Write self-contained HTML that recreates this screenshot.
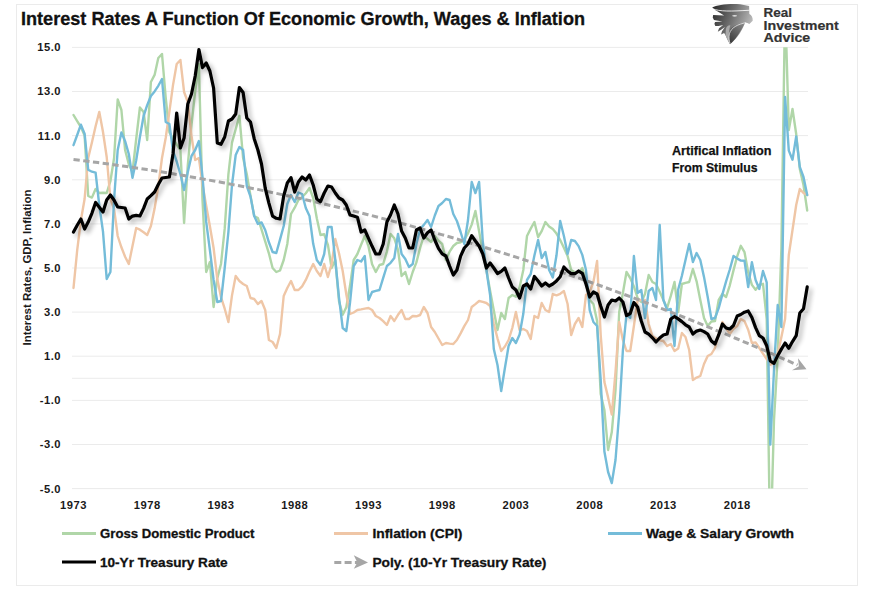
<!DOCTYPE html>
<html><head><meta charset="utf-8"><style>
html,body{margin:0;padding:0;background:#fff;}
body{width:870px;height:594px;overflow:hidden;position:relative;font-family:"Liberation Sans",sans-serif;}
svg{position:absolute;left:0;top:0;}
</style></head><body>
<svg width="870" height="594" viewBox="0 0 870 594">
<defs>
<filter id="sh" filterUnits="userSpaceOnUse" x="50" y="20" width="800" height="480">
<feGaussianBlur in="SourceAlpha" stdDeviation="2.6"/>
<feOffset dx="2.5" dy="2.5" result="b"/>
<feComponentTransfer><feFuncA type="linear" slope="0.32"/></feComponentTransfer>
<feMerge><feMergeNode/><feMergeNode in="SourceGraphic"/></feMerge>
</filter>
<clipPath id="pc"><rect x="60" y="47.3" width="760" height="441.3"/></clipPath>
<linearGradient id="eg" gradientUnits="userSpaceOnUse" x1="75" y1="80" x2="555" y2="260">
<stop offset="0" stop-color="#2a2a2a"/><stop offset="0.5" stop-color="#6e6e6e"/><stop offset="1" stop-color="#bdbdbd"/>
</linearGradient>
<linearGradient id="eg2" gradientUnits="userSpaceOnUse" x1="280" y1="500" x2="460" y2="280">
<stop offset="0" stop-color="#3a3a3a"/><stop offset="1" stop-color="#8a8a8a"/>
</linearGradient>
</defs>
<rect x="16.5" y="4.5" width="841" height="581" fill="#fff" stroke="#ebebeb" stroke-width="1"/>
<g stroke="#ebebeb" stroke-width="1"><line x1="72" x2="808" y1="47.4" y2="47.4"/><line x1="72" x2="808" y1="91.5" y2="91.5"/><line x1="72" x2="808" y1="135.6" y2="135.6"/><line x1="72" x2="808" y1="179.8" y2="179.8"/><line x1="72" x2="808" y1="223.9" y2="223.9"/><line x1="72" x2="808" y1="268.0" y2="268.0"/><line x1="72" x2="808" y1="312.1" y2="312.1"/><line x1="72" x2="808" y1="356.2" y2="356.2"/><line x1="72" x2="808" y1="400.4" y2="400.4"/><line x1="72" x2="808" y1="444.5" y2="444.5"/><line x1="72" x2="808" y1="488.6" y2="488.6"/><line x1="72" x2="808" y1="378.3" y2="378.3"/></g>
<g font-family="Liberation Sans" font-weight="bold" font-size="11.2" fill="#1a1a1a" text-anchor="end"><text x="61" y="51.3" letter-spacing="0.5">15.0</text><text x="61" y="95.4" letter-spacing="0.5">13.0</text><text x="61" y="139.5" letter-spacing="0.5">11.0</text><text x="61" y="183.7" letter-spacing="0.5">9.0</text><text x="61" y="227.8" letter-spacing="0.5">7.0</text><text x="61" y="271.9" letter-spacing="0.5">5.0</text><text x="61" y="316.0" letter-spacing="0.5">3.0</text><text x="61" y="360.1" letter-spacing="0.5">1.0</text><text x="61" y="404.3" letter-spacing="0.5">-1.0</text><text x="61" y="448.4" letter-spacing="0.5">-3.0</text><text x="61" y="492.5" letter-spacing="0.5">-5.0</text></g>
<g font-family="Liberation Sans" font-weight="bold" font-size="11.2" fill="#1a1a1a" text-anchor="middle"><text x="73.5" y="509" letter-spacing="0.5">1973</text><text x="147.2" y="509" letter-spacing="0.5">1978</text><text x="221.0" y="509" letter-spacing="0.5">1983</text><text x="294.7" y="509" letter-spacing="0.5">1988</text><text x="368.5" y="509" letter-spacing="0.5">1993</text><text x="442.2" y="509" letter-spacing="0.5">1998</text><text x="515.9" y="509" letter-spacing="0.5">2003</text><text x="589.7" y="509" letter-spacing="0.5">2008</text><text x="663.4" y="509" letter-spacing="0.5">2013</text><text x="737.2" y="509" letter-spacing="0.5">2018</text></g>
<text transform="translate(30.8,345.5) rotate(-90)" font-family="Liberation Sans" font-weight="bold" font-size="11" fill="#1a1a1a" textLength="156" lengthAdjust="spacingAndGlyphs">Interest Rates, GDP, Inflation</text>
<text x="21" y="25.3" font-family="Liberation Sans" font-weight="bold" font-size="17.5" fill="#111" stroke="#111" stroke-width="0.3" textLength="564" lengthAdjust="spacingAndGlyphs">Interest Rates A Function Of Economic Growth, Wages &amp; Inflation</text>
<g clip-path="url(#pc)" fill="none" stroke-linejoin="round" stroke-linecap="round">
<path d="M73.5,115.0 L77.2,121.1 L80.9,127.0 L84.6,135.5 L88.2,196.0 L91.9,197.6 L95.6,189.0 L99.3,193.0 L103.0,192.8 L106.7,193.0 L110.4,181.2 L114.1,158.0 L117.7,99.5 L121.4,110.0 L125.1,150.0 L128.8,164.2 L132.5,172.0 L136.2,139.0 L139.9,107.5 L143.6,112.0 L147.2,140.0 L150.9,82.0 L154.6,74.9 L158.3,58.0 L162.0,54.0 L165.7,97.5 L169.4,132.3 L173.0,138.4 L176.7,144.6 L180.4,150.0 L184.1,223.0 L187.8,165.0 L191.5,125.0 L195.2,91.0 L198.9,64.0 L202.5,200.0 L206.2,272.0 L209.9,262.0 L213.6,307.0 L217.3,278.2 L221.0,264.0 L224.7,228.7 L228.4,174.3 L232.0,142.6 L235.7,129.2 L239.4,115.8 L243.1,158.0 L246.8,174.2 L250.5,195.6 L254.2,216.0 L257.9,218.0 L261.5,229.4 L265.2,241.3 L268.9,253.3 L272.6,268.0 L276.3,272.0 L280.0,270.5 L283.7,260.0 L287.3,244.0 L291.0,214.0 L294.7,207.7 L298.4,200.0 L302.1,197.3 L305.8,193.2 L309.5,188.0 L313.2,198.0 L316.8,218.3 L320.5,235.0 L324.2,234.3 L327.9,244.8 L331.6,268.0 L335.3,260.0 L339.0,301.1 L342.7,314.7 L346.3,307.3 L350.0,285.8 L353.7,260.0 L357.4,254.0 L361.1,244.7 L364.8,236.0 L368.5,246.4 L372.1,264.3 L375.8,272.0 L379.5,265.0 L383.2,264.0 L386.9,251.6 L390.6,234.0 L394.3,238.3 L398.0,249.8 L401.6,276.0 L405.3,272.0 L409.0,284.0 L412.7,272.0 L416.4,262.4 L420.1,248.0 L423.8,236.0 L427.5,238.9 L431.1,242.0 L434.8,236.0 L438.5,240.7 L442.2,244.0 L445.9,260.0 L449.6,251.7 L453.3,246.0 L456.9,243.0 L460.6,242.3 L464.3,239.7 L468.0,233.4 L471.7,224.6 L475.4,211.0 L479.1,231.3 L482.8,251.6 L486.4,270.0 L490.1,290.8 L493.8,310.5 L497.5,330.0 L501.2,313.0 L504.9,319.0 L508.6,298.0 L512.3,295.0 L515.9,296.8 L519.6,287.2 L523.3,270.0 L527.0,236.0 L530.7,228.6 L534.4,222.0 L538.1,237.0 L541.7,231.1 L545.4,222.0 L549.1,226.4 L552.8,229.0 L556.5,233.6 L560.2,240.0 L563.9,247.7 L567.6,256.0 L571.2,270.0 L574.9,272.5 L578.6,272.4 L582.3,268.0 L586.0,282.0 L589.7,300.0 L593.4,304.0 L597.1,321.0 L600.7,394.0 L604.4,410.0 L608.1,450.0 L611.8,432.0 L615.5,390.1 L619.2,312.0 L622.9,293.0 L626.5,272.0 L630.2,278.0 L633.9,286.4 L637.6,298.0 L641.3,302.0 L645.0,294.0 L648.7,275.0 L652.4,282.0 L656.0,284.0 L659.7,291.7 L663.4,300.0 L667.1,308.0 L670.8,295.9 L674.5,282.0 L678.2,312.0 L681.9,284.0 L685.5,282.8 L689.2,282.0 L692.9,269.0 L696.6,281.3 L700.3,300.0 L704.0,318.0 L707.7,326.0 L711.4,321.5 L715.0,321.0 L718.7,300.0 L722.4,294.0 L726.1,297.0 L729.8,285.3 L733.5,270.4 L737.2,256.3 L740.8,245.8 L744.5,252.2 L748.2,272.4 L751.9,284.9 L755.6,289.8 L759.3,285.0 L763.0,283.8 L766.7,319.0 L770.3,555.0 L774.0,420.0 L777.7,356.0 L781.4,248.0 L785.1,3.0 L788.8,130.0 L792.5,109.0 L796.2,134.0 L799.8,169.0 L803.5,185.0 L807.2,210.5" stroke="#b0d6a8" stroke-width="2.4"/>
<path d="M73.5,288.0 L77.2,250.2 L80.9,220.3 L84.6,199.0 L88.2,158.0 L91.9,142.5 L95.6,126.2 L99.3,111.9 L103.0,132.0 L106.7,157.0 L110.4,199.0 L114.1,208.9 L117.7,236.0 L121.4,247.3 L125.1,256.7 L128.8,264.0 L132.5,246.0 L136.2,228.0 L139.9,229.7 L143.6,232.2 L147.2,235.0 L150.9,226.0 L154.6,208.6 L158.3,186.0 L162.0,158.0 L165.7,138.0 L169.4,111.6 L173.0,85.1 L176.7,64.0 L180.4,60.0 L184.1,92.0 L187.8,102.0 L191.5,136.0 L195.2,160.0 L198.9,158.0 L202.5,184.4 L206.2,205.7 L209.9,226.2 L213.6,248.0 L217.3,279.0 L221.0,297.2 L224.7,308.7 L228.4,322.0 L232.0,295.4 L235.7,276.0 L239.4,281.0 L243.1,284.0 L246.8,286.0 L250.5,298.0 L254.2,299.0 L257.9,304.0 L261.5,301.0 L265.2,310.0 L268.9,340.0 L272.6,342.0 L276.3,348.0 L280.0,334.0 L283.7,296.0 L287.3,288.0 L291.0,281.0 L294.7,290.0 L298.4,290.0 L302.1,286.3 L305.8,279.9 L309.5,271.5 L313.2,264.0 L316.8,271.0 L320.5,276.0 L324.2,264.0 L327.9,277.0 L331.6,264.0 L335.3,239.0 L339.0,253.3 L342.7,271.0 L346.3,294.2 L350.0,314.0 L353.7,312.5 L357.4,310.0 L361.1,309.4 L364.8,308.6 L368.5,308.0 L372.1,310.0 L375.8,316.0 L379.5,318.0 L383.2,321.2 L386.9,325.0 L390.6,316.0 L394.3,321.0 L398.0,314.8 L401.6,310.0 L405.3,319.0 L409.0,319.0 L412.7,316.0 L416.4,316.3 L420.1,315.0 L423.8,307.0 L427.5,313.0 L431.1,327.0 L434.8,332.0 L438.5,338.5 L442.2,345.0 L445.9,343.0 L449.6,343.6 L453.3,344.0 L456.9,340.0 L460.6,333.4 L464.3,326.1 L468.0,320.0 L471.7,307.0 L475.4,304.1 L479.1,301.0 L482.8,301.9 L486.4,303.0 L490.1,306.0 L493.8,323.8 L497.5,338.3 L501.2,351.0 L504.9,346.5 L508.6,340.0 L512.3,328.0 L515.9,312.0 L519.6,330.0 L523.3,329.0 L527.0,331.0 L530.7,339.0 L534.4,316.0 L538.1,318.0 L541.7,303.0 L545.4,310.0 L549.1,312.0 L552.8,294.0 L556.5,295.4 L560.2,293.8 L563.9,291.0 L567.6,304.0 L571.2,335.0 L574.9,324.0 L578.6,318.0 L582.3,327.0 L586.0,295.0 L589.7,292.0 L593.4,282.0 L597.1,261.0 L600.7,335.0 L604.4,382.0 L608.1,397.4 L611.8,414.5 L615.5,372.1 L619.2,322.0 L622.9,340.0 L626.5,351.0 L630.2,351.0 L633.9,326.0 L637.6,300.0 L641.3,300.0 L645.0,300.0 L648.7,324.0 L652.4,336.0 L656.0,338.4 L659.7,340.3 L663.4,341.0 L667.1,346.0 L670.8,344.0 L674.5,351.0 L678.2,348.5 L681.9,333.0 L685.5,337.0 L689.2,350.0 L692.9,380.0 L696.6,377.6 L700.3,376.0 L704.0,364.0 L707.7,356.0 L711.4,354.0 L715.0,348.0 L718.7,334.0 L722.4,322.0 L726.1,328.2 L729.8,334.0 L733.5,328.9 L737.2,326.0 L740.8,319.0 L744.5,321.1 L748.2,329.8 L751.9,343.0 L755.6,342.4 L759.3,348.0 L763.0,353.6 L766.7,359.2 L770.3,364.8 L774.0,362.7 L777.7,354.0 L781.4,337.1 L785.1,319.0 L788.8,255.0 L792.5,230.0 L796.2,205.0 L799.8,189.0 L803.5,193.0 L807.2,195.0" stroke="#efc6a6" stroke-width="2.4"/>
<path d="M73.5,145.2 L77.2,135.0 L80.9,124.7 L84.6,133.7 L88.2,169.8 L91.9,171.7 L95.6,172.7 L99.3,205.5 L103.0,231.6 L106.7,279.0 L110.4,272.0 L114.1,199.0 L117.7,150.0 L121.4,132.5 L125.1,141.1 L128.8,154.0 L132.5,177.7 L136.2,160.2 L139.9,137.0 L143.6,116.0 L147.2,105.2 L150.9,96.0 L154.6,91.4 L158.3,85.8 L162.0,79.0 L165.7,122.0 L169.4,124.0 L173.0,151.0 L176.7,161.5 L180.4,174.2 L184.1,190.0 L187.8,172.1 L191.5,156.0 L195.2,150.0 L198.9,141.0 L202.5,176.9 L206.2,221.9 L209.9,250.0 L213.6,280.0 L217.3,302.0 L221.0,301.0 L224.7,268.0 L228.4,232.0 L232.0,185.0 L235.7,155.0 L239.4,147.0 L243.1,150.0 L246.8,186.0 L250.5,196.6 L254.2,216.0 L257.9,224.0 L261.5,222.4 L265.2,230.0 L268.9,242.3 L272.6,252.0 L276.3,253.0 L280.0,239.6 L283.7,226.0 L287.3,204.0 L291.0,195.0 L294.7,202.0 L298.4,192.5 L302.1,194.0 L305.8,208.0 L309.5,216.0 L313.2,243.8 L316.8,260.0 L320.5,265.0 L324.2,254.0 L327.9,227.0 L331.6,227.0 L335.3,260.0 L339.0,297.6 L342.7,328.0 L346.3,331.0 L350.0,302.9 L353.7,266.0 L357.4,260.0 L361.1,261.5 L364.8,256.0 L368.5,300.0 L372.1,292.0 L375.8,290.9 L379.5,290.0 L383.2,277.8 L386.9,266.0 L390.6,262.8 L394.3,258.0 L398.0,234.0 L401.6,254.0 L405.3,259.0 L409.0,267.0 L412.7,264.0 L416.4,244.0 L420.1,229.0 L423.8,224.9 L427.5,220.0 L431.1,227.0 L434.8,215.5 L438.5,206.0 L442.2,203.0 L445.9,199.0 L449.6,200.0 L453.3,214.0 L456.9,221.0 L460.6,232.0 L464.3,244.0 L468.0,220.0 L471.7,182.0 L475.4,193.0 L479.1,182.0 L482.8,242.0 L486.4,270.0 L490.1,295.0 L493.8,349.0 L497.5,365.0 L501.2,391.0 L504.9,368.0 L508.6,346.0 L512.3,338.0 L515.9,343.0 L519.6,334.5 L523.3,313.8 L527.0,280.0 L530.7,274.0 L534.4,255.5 L538.1,240.0 L541.7,258.0 L545.4,252.0 L549.1,270.0 L552.8,277.5 L556.5,255.3 L560.2,221.0 L563.9,236.0 L567.6,254.0 L571.2,240.0 L574.9,241.0 L578.6,246.1 L582.3,254.9 L586.0,270.0 L589.7,310.1 L593.4,322.0 L597.1,326.0 L600.7,380.0 L604.4,451.5 L608.1,472.0 L611.8,483.0 L615.5,460.0 L619.2,413.0 L622.9,350.0 L626.5,314.5 L630.2,318.0 L633.9,256.0 L637.6,293.0 L641.3,290.0 L645.0,318.0 L648.7,291.0 L652.4,288.0 L656.0,300.0 L659.7,225.0 L663.4,300.0 L667.1,310.0 L670.8,309.0 L674.5,346.0 L678.2,289.5 L681.9,275.7 L685.5,259.9 L689.2,244.0 L692.9,262.0 L696.6,253.0 L700.3,260.0 L704.0,276.9 L707.7,297.0 L711.4,319.0 L715.0,318.0 L718.7,308.2 L722.4,294.4 L726.1,281.3 L729.8,269.5 L733.5,256.0 L737.2,258.5 L740.8,260.6 L744.5,260.8 L748.2,287.0 L751.9,262.3 L755.6,280.0 L759.3,289.0 L763.0,271.0 L766.7,282.4 L770.3,444.6 L774.0,370.0 L777.7,305.0 L781.4,327.0 L785.1,97.0 L788.8,150.6 L792.5,159.7 L796.2,136.5 L799.8,166.8 L803.5,177.0 L807.2,195.0" stroke="#74bcd9" stroke-width="2.4"/>
<path d="M73.5,159.5 L85.8,161.0 L98.0,162.6 L110.3,164.2 L122.6,166.0 L134.9,167.8 L147.1,169.6 L159.4,171.6 L171.7,173.6 L183.9,175.6 L196.2,177.8 L208.5,180.0 L220.8,182.2 L233.0,184.6 L245.3,187.0 L257.6,189.4 L269.8,192.0 L282.1,194.6 L294.4,197.2 L306.7,200.0 L318.9,202.8 L331.2,205.7 L343.5,208.6 L355.7,211.6 L368.0,214.7 L380.3,217.8 L392.6,221.1 L404.8,224.3 L417.1,227.7 L429.4,231.1 L441.6,234.6 L453.9,238.1 L466.2,241.8 L478.4,245.5 L490.7,249.2 L503.0,253.0 L515.3,256.9 L527.5,260.9 L539.8,264.9 L552.1,269.0 L564.3,273.2 L576.6,277.4 L588.9,281.7 L601.2,286.0 L613.4,290.5 L625.7,295.0 L638.0,299.5 L650.2,304.2 L662.5,308.9 L674.8,313.6 L687.1,318.5 L699.3,323.4 L711.6,328.4 L723.9,333.4 L736.1,338.5 L748.4,343.7 L760.7,348.9 L773.0,354.2 L785.2,359.6 L797.5,365.0" stroke="#a6a6a6" stroke-width="3" stroke-dasharray="6.3,3.5" stroke-linecap="butt"/>
<path d="M73.5,232.0 L77.2,225.2 L80.9,219.0 L84.6,229.0 L88.2,222.1 L91.9,213.3 L95.6,202.4 L99.3,207.2 L103.0,212.0 L106.7,200.0 L110.4,195.0 L114.1,200.2 L117.7,207.0 L121.4,207.5 L125.1,208.0 L128.8,219.0 L132.5,216.1 L136.2,215.4 L139.9,216.0 L143.6,208.4 L147.2,199.0 L150.9,195.6 L154.6,192.0 L158.3,184.5 L162.0,178.0 L165.7,177.5 L169.4,177.0 L173.0,154.0 L176.7,113.0 L180.4,148.0 L184.1,138.0 L187.8,104.0 L191.5,94.0 L195.2,76.0 L198.9,49.6 L202.5,67.6 L206.2,63.0 L209.9,71.0 L213.6,88.0 L217.3,143.0 L221.0,144.3 L224.7,137.0 L228.4,121.0 L232.0,119.0 L235.7,114.0 L239.4,87.5 L243.1,92.5 L246.8,118.0 L250.5,122.0 L254.2,138.7 L257.9,150.0 L261.5,164.0 L265.2,188.0 L268.9,203.1 L272.6,216.1 L276.3,218.3 L280.0,219.0 L283.7,196.0 L287.3,183.0 L291.0,177.6 L294.7,192.0 L298.4,182.0 L302.1,177.0 L305.8,180.0 L309.5,175.0 L313.2,185.0 L316.8,199.0 L320.5,201.6 L324.2,193.0 L327.9,186.0 L331.6,187.0 L335.3,193.0 L339.0,198.0 L342.7,200.0 L346.3,205.0 L350.0,215.0 L353.7,216.0 L357.4,217.2 L361.1,232.0 L364.8,230.0 L368.5,238.3 L372.1,246.3 L375.8,254.0 L379.5,254.0 L383.2,244.0 L386.9,222.0 L390.6,214.7 L394.3,205.0 L398.0,214.0 L401.6,231.0 L405.3,238.0 L409.0,248.0 L412.7,248.0 L416.4,230.0 L420.1,228.0 L423.8,238.0 L427.5,232.8 L431.1,230.0 L434.8,240.0 L438.5,248.4 L442.2,253.8 L445.9,256.0 L449.6,266.0 L453.3,275.0 L456.9,270.0 L460.6,256.1 L464.3,248.0 L468.0,244.0 L471.7,235.6 L475.4,241.0 L479.1,246.0 L482.8,254.0 L486.4,268.0 L490.1,263.0 L493.8,268.0 L497.5,273.5 L501.2,271.4 L504.9,268.0 L508.6,278.0 L512.3,287.0 L515.9,290.0 L519.6,298.0 L523.3,286.0 L527.0,284.0 L530.7,289.0 L534.4,276.5 L538.1,281.0 L541.7,286.0 L545.4,283.0 L549.1,286.0 L552.8,284.0 L556.5,280.9 L560.2,276.8 L563.9,267.0 L567.6,271.0 L571.2,273.6 L574.9,273.7 L578.6,271.0 L582.3,273.3 L586.0,284.0 L589.7,297.0 L593.4,292.0 L597.1,294.0 L600.7,306.0 L604.4,317.0 L608.1,305.0 L611.8,300.0 L615.5,301.0 L619.2,298.0 L622.9,302.0 L626.5,315.5 L630.2,313.5 L633.9,302.5 L637.6,307.0 L641.3,321.0 L645.0,332.0 L648.7,334.2 L652.4,337.8 L656.0,342.0 L659.7,338.0 L663.4,335.0 L667.1,334.0 L670.8,319.0 L674.5,316.5 L678.2,318.9 L681.9,321.6 L685.5,324.8 L689.2,327.0 L692.9,334.0 L696.6,331.1 L700.3,330.0 L704.0,331.6 L707.7,334.0 L711.4,341.0 L715.0,344.0 L718.7,334.9 L722.4,324.0 L726.1,328.0 L729.8,329.0 L733.5,325.5 L737.2,316.0 L740.8,314.5 L744.5,312.2 L748.2,311.0 L751.9,317.5 L755.6,327.6 L759.3,335.7 L763.0,338.0 L766.7,345.8 L770.3,361.0 L774.0,363.4 L777.7,355.6 L781.4,349.1 L785.1,343.0 L788.8,348.3 L792.5,341.6 L796.2,335.7 L799.8,313.0 L803.5,308.8 L807.2,286.9" stroke="#000" stroke-width="3.2" filter="url(#sh)"/>
</g>
<polygon points="806.5,369.3 798,358.3 798.9,366.2 792,370.3" fill="#a6a6a6"/>
<g font-family="Liberation Sans" font-weight="bold" font-size="12.3" fill="#111" stroke="#111" stroke-width="0.25">
<text x="672" y="154.8" textLength="99.5" lengthAdjust="spacingAndGlyphs">Artifical Inflation</text>
<text x="672" y="171.7" textLength="85.5" lengthAdjust="spacingAndGlyphs">From Stimulus</text>
</g>
<!-- legend -->
<g stroke-width="3">
<line x1="62" x2="96" y1="533.5" y2="533.5" stroke="#b0d6a8"/>
<line x1="334" x2="368" y1="533.5" y2="533.5" stroke="#efc6a6"/>
<line x1="608" x2="642" y1="533.5" y2="533.5" stroke="#74bcd9"/>
<line x1="62" x2="96" y1="562" y2="562" stroke="#000"/>
<line x1="334.3" x2="358" y1="562.5" y2="562.5" stroke="#a6a6a6" stroke-dasharray="7,3.3"/>
</g>
<polygon points="368,562.5 353.8,555.3 357.3,562.5 353.8,568.8" fill="#a6a6a6"/>
<g font-family="Liberation Sans" font-weight="bold" font-size="13.2" fill="#111" stroke="#111" stroke-width="0.3">
<text x="100" y="537.8" textLength="154.5" lengthAdjust="spacingAndGlyphs">Gross Domestic Product</text>
<text x="372.4" y="537.8" textLength="90" lengthAdjust="spacingAndGlyphs">Inflation (CPI)</text>
<text x="646" y="537.8" textLength="148" lengthAdjust="spacingAndGlyphs">Wage &amp; Salary Growth</text>
<text x="100" y="566.8" textLength="127.5" lengthAdjust="spacingAndGlyphs">10-Yr Treasury Rate</text>
<text x="372.4" y="566.8" textLength="174" lengthAdjust="spacingAndGlyphs">Poly. (10-Yr Treasury Rate)</text>
</g>
<!-- logo -->
<g transform="translate(706,0) scale(0.08421)">
<path d="M74,90 C130,55 270,42 404,50 L512,72 L515,165 C540,180 558,205 555,245 L515,285 C490,268 470,268 462,272 C440,340 380,450 285,525 C262,490 245,450 232,420 L215,392 L179,411 L190,372 L225,322 L180,352 L140,378 L155,336 L205,298 L150,308 L110,308 L100,282 L108,260 L195,255 L95,238 L80,208 L85,178 L215,185 C150,140 100,120 74,90 Z" fill="url(#eg)"/>
<path d="M462,272 C430,330 380,440 285,525 C266,470 262,400 290,340 C330,295 400,272 462,272 Z" fill="url(#eg2)"/>
<path d="M236,345 C246,312 262,298 290,300 C270,360 262,440 285,520 C262,490 245,450 232,420 Z" fill="#a8a8a8"/>
<g fill="none" stroke="#fff" stroke-linecap="round">
<path d="M80,104 C160,140 300,134 512,122" stroke-width="10"/>
<path d="M470,270 C380,288 300,325 278,400 C268,440 274,490 286,515" stroke-width="8"/>
</g>
<ellipse cx="340" cy="188" rx="30" ry="8" fill="#fff"/>
</g>
<g font-family="Liberation Sans" font-weight="bold" font-size="13.4" fill="#333" stroke="#333" stroke-width="0.2">
<text x="763.5" y="16.8" textLength="28.5" lengthAdjust="spacingAndGlyphs">Real</text>
<text x="763.5" y="29.5" textLength="75.3" lengthAdjust="spacingAndGlyphs">Investment</text>
<text x="763.5" y="42.2" textLength="46.8" lengthAdjust="spacingAndGlyphs">Advice</text>
</g>
</svg>
</body></html>
